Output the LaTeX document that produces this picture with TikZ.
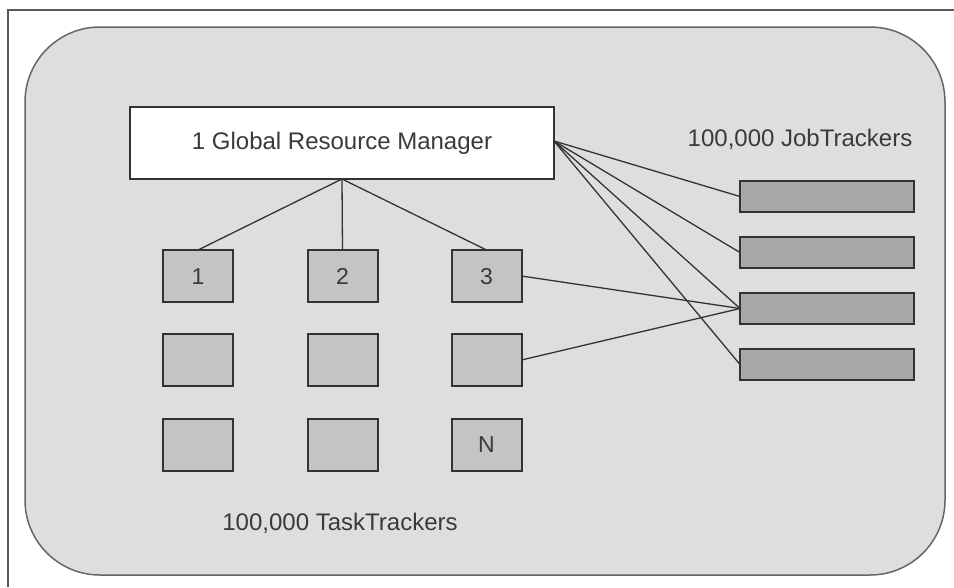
\documentclass[tikz,border=0pt]{standalone}
\usepackage{fontspec}
\setmainfont{Liberation Sans}
\definecolor{panel}{HTML}{DEDEDC}
\definecolor{taskfill}{HTML}{C4C4C4}
\definecolor{jobfill}{HTML}{A8A8A8}
\definecolor{edge}{HTML}{333333}
\definecolor{txt}{HTML}{3A3A3A}
\tikzset{
  box/.style={draw=edge, line width=2pt, outer sep=0pt, inner sep=0pt},
  taskbox/.style={box, fill=taskfill, minimum width=70pt, minimum height=52pt,
    font=\fontsize{23}{26}\selectfont, text=txt, text height=16.5pt, text depth=0pt},
  jobbox/.style={box, fill=jobfill, minimum width=174pt, minimum height=31pt},
  link/.style={draw=edge, line width=1.3pt},
  caption/.style={font=\fontsize{24}{28}\selectfont, text=txt}
}
\begin{document}
\begin{tikzpicture}[x=1pt,y=-1pt]
  \useasboundingbox (0,0) rectangle (954,587);
  \fill[white] (0,0) rectangle (954,587);
  % partial frame
  \draw[draw=black!65, line width=1.5pt] (8,587) -- (8,10) -- (954,10);
  % rounded panel
  \draw[draw=black!60, line width=1.5pt, fill=panel, rounded corners=75pt]
    (25,27) rectangle (945,575);

  % resource manager
  \node[box, fill=white, minimum width=424pt, minimum height=72pt,
        font=\fontsize{24}{28}\selectfont, text=txt] (rm) at (342,143)
        {1 Global Resource Manager};

  % task trackers
  \node[taskbox] (t11) at (198,276) {1};
  \node[taskbox] (t12) at (342.5,276) {2};
  \node[taskbox] (t13) at (486.5,276) {3};
  \node[taskbox] (t21) at (198,360) {};
  \node[taskbox] (t22) at (342.5,360) {};
  \node[taskbox] (t23) at (486.5,360) {};
  \node[taskbox] (t31) at (198,444.5) {};
  \node[taskbox] (t32) at (342.5,444.5) {};
  \node[taskbox] (t33) at (486.5,444.5) {N};

  % job trackers
  \node[jobbox] (j1) at (827,196.5) {};
  \node[jobbox] (j2) at (827,252.5) {};
  \node[jobbox] (j3) at (827,308.5) {};
  \node[jobbox] (j4) at (827,364.5) {};

  % captions
  \node[caption] (jcap) at (800,139) {100,000 JobTrackers};
  \node[caption] (tcap) at (340,523) {100,000 TaskTrackers};

  % manager to task trackers
  \coordinate (rmb) at (rm.south);
  \draw[link] (rmb) -- (t11.north);
  \draw[link] (rmb) -- (t12.north);
  \draw[link] (rmb) -- (t13.north);

  % manager to job trackers
  \coordinate (rmr) at ([yshift=2pt]rm.east);
  \draw[link] (rmr) -- (j1.west);
  \draw[link] (rmr) -- (j2.west);
  \draw[link] (rmr) -- (j3.west);
  \draw[link] (rmr) -- (j4.west);

  % task trackers to a job tracker
  \draw[link] (t13.east) -- (j3.west);
  \draw[link] (t23.east) -- (j3.west);
\end{tikzpicture}
\end{document}
